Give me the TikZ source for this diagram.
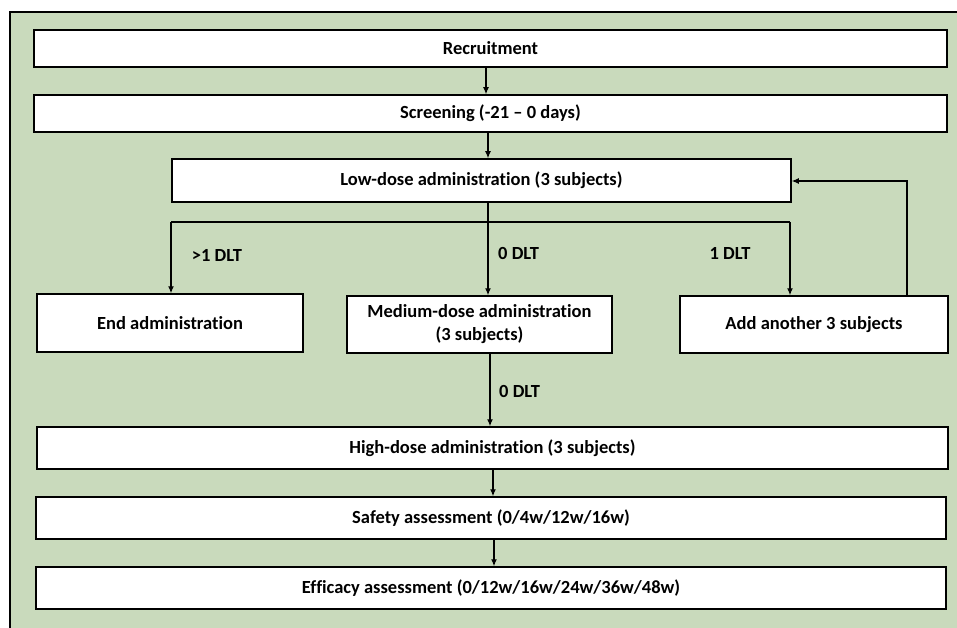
\documentclass[tikz,border=0pt]{standalone}
\usepackage{fontspec}
\setmainfont{Carlito}[Ligatures=NoCommon]
\usetikzlibrary{arrows.meta}
\definecolor{bggreen}{RGB}{201,218,188}
\tikzset{
  box/.style={draw=black, line width=1.5pt, fill=white, inner sep=2pt, align=center,
              font=\fontsize{18.5}{23}\selectfont\bfseries},
  arr/.style={line width=1.2pt, -{Latex[length=7pt,width=6pt]}},
  ln/.style={line width=1.2pt},
  lbl/.style={font=\fontsize{18.5}{23}\selectfont\bfseries, inner sep=0pt}
}
\begin{document}
\begin{tikzpicture}[x=1pt,y=-1pt]
\useasboundingbox (0,0) rectangle (957,628);
\fill[bggreen] (10,12) rectangle (957,628);
\draw[line width=2pt] (10,628) -- (10,12) -- (957,12);

\node[box, minimum width=913pt, minimum height=37pt] (rec) at (490.5,48.5) {Recruitment};
\node[box, minimum width=913pt, minimum height=37pt] (scr) at (490.5,113.5) {Screening (-21 – 0 days)};
\node[box, minimum width=619pt, minimum height=43pt] (low) at (481.5,180.5) {Low-dose administration (3 subjects)};
\node[box, minimum width=266pt, minimum height=58pt] (end) at (170,323) {End administration};
\node[box, minimum width=265pt, minimum height=57pt] (med) at (479.5,324.5) {Medium-dose administration\\(3 subjects)};
\node[box, minimum width=268pt, minimum height=57pt] (add) at (814,324.5) {Add another 3 subjects};
\node[box, minimum width=911pt, minimum height=42pt] (high) at (492.5,448) {High-dose administration (3 subjects)};
\node[box, minimum width=910pt, minimum height=42pt] (saf) at (491,518) {Safety assessment (0/4w/12w/16w)};
\node[box, minimum width=910pt, minimum height=42pt] (eff) at (491,588) {Efficacy assessment (0/12w/16w/24w/36w/48w)};

\coordinate (br) at (488,222);
\coordinate (brl) at (171,222);
\coordinate (brr) at (790,222);
\coordinate (fb) at (907,181);

\draw[arr] (rec.south -| 486,0) -- (scr.north -| 486,0);
\draw[arr] (scr.south -| 488,0) -- (low.north -| 488,0);
\draw[ln] (low.south -| br) -- (br);
\draw[ln] (brl) -- (brr);
\draw[arr] (brl) -- (end.north -| brl);
\draw[arr] (br) -- (med.north -| br);
\draw[arr] (brr) -- (add.north -| brr);
\draw[arr] (med.south -| 490,0) -- (high.north -| 490,0);
\draw[arr] (high.south -| 493,0) -- (saf.north -| 493,0);
\draw[arr] (saf.south -| 494,0) -- (eff.north -| 494,0);
\draw[arr] (add.north -| fb) -- (fb) -- (low.east |- fb);

\node[lbl] (l1) at (217,255) {>1 DLT};
\node[lbl, anchor=west] (l2) at (498,253) {0 DLT};
\node[lbl] (l3) at (730,253) {1 DLT};
\node[lbl, anchor=west] (l4) at (499,391) {0 DLT};
\end{tikzpicture}
\end{document}
